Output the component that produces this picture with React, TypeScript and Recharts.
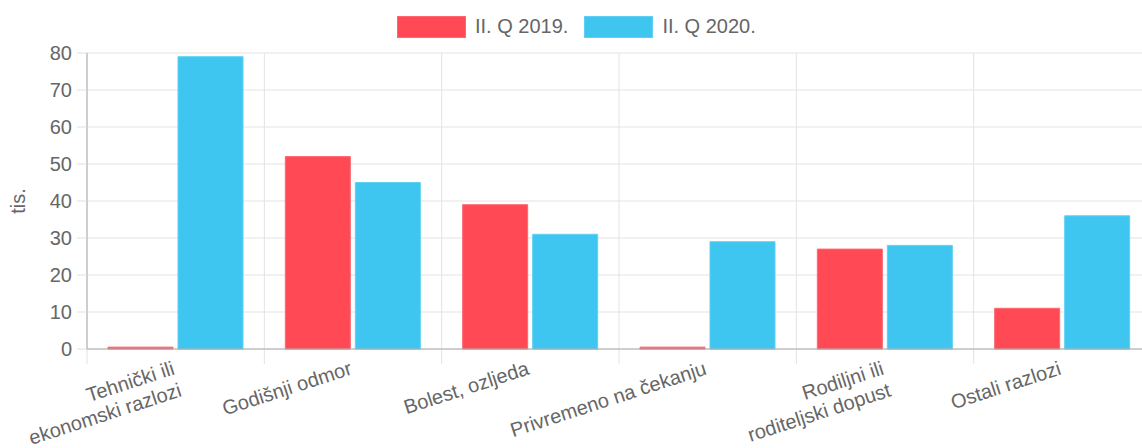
import { BarChart, Bar, XAxis, YAxis, CartesianGrid } from "recharts";

const categories = [
  ["Tehnički ili", "ekonomski razlozi"],
  ["Godišnji odmor"],
  ["Bolest, ozljeda"],
  ["Privremeno na čekanju"],
  ["Rodiljni ili", "roditeljski dopust"],
  ["Ostali razlozi"],
];
const q2019 = [0.5, 52, 39, 0.5, 27, 11];
const q2020 = [79, 45, 31, 29, 28, 36];
const yTicks = [0, 10, 20, 30, 40, 50, 60, 70, 80];
const series = [
  { key: "q2019", label: "II. Q 2019.", color: "#ff4a55", border: "#ff6670" },
  { key: "q2020", label: "II. Q 2020.", color: "#3ec6f0", border: "#5fd0f3" },
];

const data = categories.map((lines, i) => ({
  name: lines.join(" "),
  q2019: q2019[i],
  q2020: q2020[i],
}));

const FONT = "'Liberation Sans', Arial, sans-serif";
const TEXT = "#666";
const CHART_W = 1152;
const CHART_H = 448;
const TOP = 53;
const Y_AXIS_W = 87;
const X_AXIS_H = 99;
const TICK_EXT = 15;

function CategoryTick(props: any) {
  const { x, y, index } = props;
  const lines = categories[index] ?? [String(props.payload?.value)];
  return (
    <g transform={`translate(${x},${y + 25})`}>
      <text
        transform="rotate(-18)"
        textAnchor="end"
        fill={TEXT}
        fontSize={20}
        fontFamily={FONT}
      >
        {lines.map((l, i) => (
          <tspan key={i} x={0} dy={i === 0 ? 0 : 23}>
            {l}
          </tspan>
        ))}
      </text>
    </g>
  );
}

function YLabel(props: any) {
  const { viewBox } = props;
  const cx = viewBox.x + 25;
  const cy = viewBox.y + viewBox.height / 2;
  return (
    <text
      x={cx}
      y={cy}
      transform={`rotate(-90 ${cx} ${cy})`}
      textAnchor="middle"
      fill={TEXT}
      fontSize={20}
      fontFamily={FONT}
    >
      tis.
    </text>
  );
}

// grid lines on the category boundaries (band edges of the x scale)
function bandEdges({ xAxis, offset }: any) {
  const scale = xAxis?.scale;
  const map =
    typeof scale === "function"
      ? (v: string) => scale(v)
      : typeof scale?.map === "function"
      ? (v: string) => scale.map(v)
      : null;
  const bw = typeof scale?.bandwidth === "function" ? scale.bandwidth() : null;
  if (map && bw) {
    const starts = data.map((d) => map(d.name));
    if (starts.every((s) => typeof s === "number" && !isNaN(s))) {
      return [...starts, starts[starts.length - 1] + bw];
    }
  }
  const step = offset.width / data.length;
  return data.map((_, i) => offset.left + i * step).concat(offset.left + offset.width);
}

export default function App() {
  return (
    <div
      style={{
        position: "fixed",
        left: 0,
        top: 0,
        width: 1142,
        height: 448,
        overflow: "hidden",
        background: "#fff",
      }}
    >
      <div
        style={{
          position: "absolute",
          left: 397,
          top: 15,
          display: "flex",
          alignItems: "center",
          fontFamily: FONT,
          fontSize: 20,
          color: TEXT,
          zIndex: 2,
        }}
      >
        {series.map((s, i) => (
          <div
            key={s.key}
            style={{ display: "flex", alignItems: "center", marginLeft: i ? 16 : 0 }}
          >
            <span
              style={{
                width: 67,
                height: 20,
                background: s.color,
                border: `1px solid ${s.border}`,
                marginRight: 9,
              }}
            />
            <span>{s.label}</span>
          </div>
        ))}
      </div>
      <BarChart
        width={CHART_W}
        height={CHART_H}
        data={data}
        margin={{ top: TOP, right: 1, bottom: 0, left: 0 }}
        barCategoryGap={21}
        barGap={5}
      >
        <CartesianGrid
          stroke="#e3e3e3"
          y={TOP}
          height={CHART_H - TOP - X_AXIS_H + TICK_EXT}
          verticalCoordinatesGenerator={bandEdges}
        />
        <XAxis
          dataKey="name"
          height={X_AXIS_H}
          interval={0}
          tickLine={false}
          tickSize={0}
          tickMargin={0}
          axisLine={{ stroke: "#aaa" }}
          tick={<CategoryTick />}
        />
        <YAxis
          width={Y_AXIS_W}
          domain={[0, 80]}
          ticks={yTicks}
          interval={0}
          tickSize={10}
          tickMargin={5}
          tickLine={{ stroke: "#e0e0e0" }}
          axisLine={{ stroke: "#aaa" }}
          tick={{ fill: TEXT, fontSize: 20, fontFamily: FONT }}
          label={<YLabel />}
        />
        {series.map((s) => (
          <Bar
            key={s.key}
            dataKey={s.key}
            name={s.label}
            fill={s.color}
            stroke={s.border}
            strokeWidth={1}
            isAnimationActive={false}
          />
        ))}
      </BarChart>
    </div>
  );
}
